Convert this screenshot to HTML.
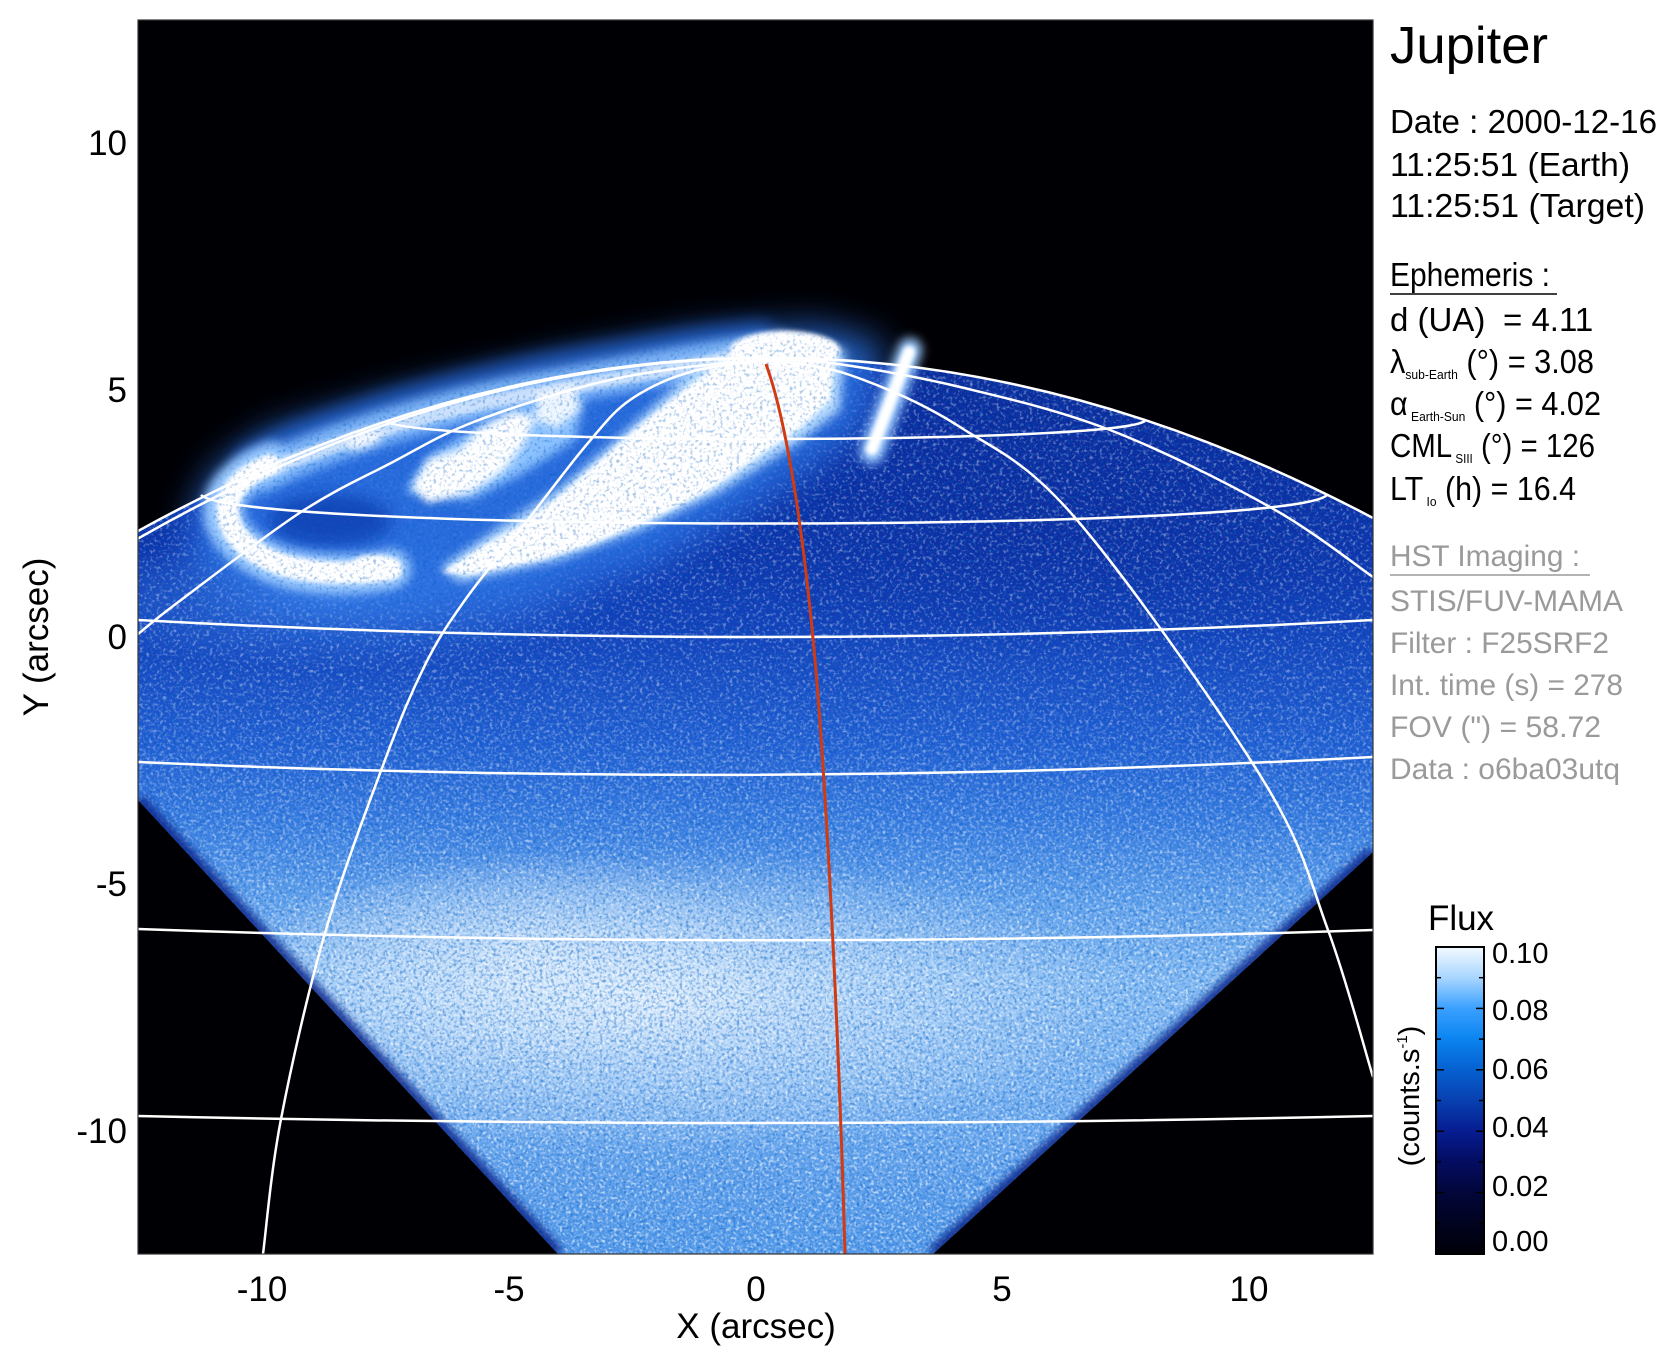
<!DOCTYPE html>
<html>
<head>
<meta charset="utf-8">
<style>
  html,body{margin:0;padding:0;background:#fff;}
  svg{display:block;}
  text{font-family:"Liberation Sans", Arial, sans-serif;}
</style>
</head>
<body>
<svg width="1676" height="1367" viewBox="0 0 1676 1367" xmlns="http://www.w3.org/2000/svg">
<defs>
  <clipPath id="plot"><rect x="138" y="20" width="1235" height="1234"/></clipPath>
  <clipPath id="disk"><path d="M138,531 Q755.5,191 1373,518 L1373,852 L933,1254 L558,1254 L138,800 Z"/></clipPath>
  <linearGradient id="dg" gradientUnits="userSpaceOnUse" x1="0" y1="340" x2="0" y2="1254">
    <stop offset="0" stop-color="#0b2c9a"/>
    <stop offset="0.12" stop-color="#0b2fa2"/>
    <stop offset="0.24" stop-color="#0e37ae"/>
    <stop offset="0.34" stop-color="#1446bf"/>
    <stop offset="0.44" stop-color="#1e5cd2"/>
    <stop offset="0.525" stop-color="#3479e0"/>
    <stop offset="0.61" stop-color="#5c9eec"/>
    <stop offset="0.70" stop-color="#84bbf4"/>
    <stop offset="0.81" stop-color="#78b2f2"/>
    <stop offset="0.92" stop-color="#5c9eec"/>
    <stop offset="1" stop-color="#5098ea"/>
  </linearGradient>
  <radialGradient id="wb" cx="0.5" cy="0.5" r="0.5">
    <stop offset="0" stop-color="#ffffff" stop-opacity="0.7"/>
    <stop offset="0.6" stop-color="#eaf5ff" stop-opacity="0.35"/>
    <stop offset="1" stop-color="#ffffff" stop-opacity="0"/>
  </radialGradient>
  <radialGradient id="db" cx="0.5" cy="0.5" r="0.5">
    <stop offset="0" stop-color="#0a2a9a" stop-opacity="0.5"/>
    <stop offset="1" stop-color="#0a2a9a" stop-opacity="0"/>
  </radialGradient>
  <radialGradient id="gl" cx="0.5" cy="0.5" r="0.5">
    <stop offset="0" stop-color="#3f86ee" stop-opacity="0.7"/>
    <stop offset="1" stop-color="#3f86ee" stop-opacity="0"/>
  </radialGradient>
  <linearGradient id="cb" x1="0" y1="0" x2="0" y2="1">
    <stop offset="0" stop-color="#f4faff"/>
    <stop offset="0.1" stop-color="#a8d6ff"/>
    <stop offset="0.2" stop-color="#3aa0ff"/>
    <stop offset="0.3" stop-color="#0a84f0"/>
    <stop offset="0.4" stop-color="#0660d0"/>
    <stop offset="0.5" stop-color="#0840b0"/>
    <stop offset="0.6" stop-color="#061c90"/>
    <stop offset="0.7" stop-color="#040c60"/>
    <stop offset="0.8" stop-color="#02063a"/>
    <stop offset="0.9" stop-color="#010320"/>
    <stop offset="1" stop-color="#000008"/>
  </linearGradient>
  <linearGradient id="mg" gradientUnits="userSpaceOnUse" x1="0" y1="620" x2="0" y2="950">
    <stop offset="0" stop-color="#000"/>
    <stop offset="1" stop-color="#fff"/>
  </linearGradient>
  <mask id="lowm" maskUnits="userSpaceOnUse" x="138" y="330" width="1235" height="930">
    <rect x="138" y="330" width="1235" height="930" fill="url(#mg)"/>
  </mask>
  <filter id="nw" filterUnits="userSpaceOnUse" x="138" y="300" width="1235" height="960">
    <feTurbulence type="fractalNoise" baseFrequency="0.3" numOctaves="2" seed="7"/>
    <feColorMatrix type="matrix" values="0 0 0 0 0.88  0 0 0 0 0.95  0 0 0 0 1  4 0 0 0 -2.1"/>
  </filter>
  <filter id="nd" filterUnits="userSpaceOnUse" x="138" y="300" width="1235" height="960">
    <feTurbulence type="fractalNoise" baseFrequency="0.3" numOctaves="2" seed="19"/>
    <feColorMatrix type="matrix" values="0 0 0 0 0.0  0 0 0 0 0.1  0 0 0 0 0.5  0 4 0 0 -2.1"/>
  </filter>
  <filter id="nw2" filterUnits="userSpaceOnUse" x="138" y="330" width="1235" height="930">
    <feTurbulence type="fractalNoise" baseFrequency="0.35" numOctaves="1" seed="31"/>
    <feColorMatrix type="matrix" values="0 0 0 0 1  0 0 0 0 1  0 0 0 0 1  5 0 0 0 -2.6"/>
  </filter>
  <filter id="nd2" filterUnits="userSpaceOnUse" x="138" y="330" width="1235" height="930">
    <feTurbulence type="fractalNoise" baseFrequency="0.35" numOctaves="1" seed="47"/>
    <feColorMatrix type="matrix" values="0 0 0 0 0.05  0 0 0 0 0.25  0 0 0 0 0.7  0 5 0 0 -2.6"/>
  </filter>
  <filter id="b18" x="-50%" y="-50%" width="200%" height="200%"><feGaussianBlur stdDeviation="18"/></filter>
  <filter id="b8" x="-50%" y="-50%" width="200%" height="200%"><feGaussianBlur stdDeviation="8"/></filter>
  <filter id="b5" x="-50%" y="-80%" width="200%" height="260%"><feGaussianBlur stdDeviation="5"/></filter>
  <filter id="b4" x="-50%" y="-50%" width="200%" height="200%"><feGaussianBlur stdDeviation="4"/></filter>
  <filter id="b2" x="-50%" y="-50%" width="200%" height="200%"><feGaussianBlur stdDeviation="2"/></filter>
  <mask id="am" maskUnits="userSpaceOnUse" x="138" y="250" width="1235" height="450">
    <path d="M200,520 L225,470 L280,435 L400,398 L560,362 L700,336 L820,330 L870,350 L850,430 L770,490 L650,560 L520,598 L400,605 L280,596 L210,570 Z" fill="#fff" filter="url(#b8)"/>
  </mask>
</defs>

<rect width="1676" height="1367" fill="#ffffff"/>
<rect x="138" y="20" width="1235" height="1234" fill="#000004"/>

<g clip-path="url(#plot)">
  <!-- Disk -->
  <g clip-path="url(#disk)">
    <rect x="138" y="180" width="1235" height="1080" fill="url(#dg)"/>
    <ellipse cx="650" cy="1000" rx="480" ry="150" fill="url(#wb)"/>
    <ellipse cx="520" cy="960" rx="260" ry="110" fill="url(#wb)" opacity="0.6"/>
    <ellipse cx="1050" cy="520" rx="380" ry="140" fill="url(#db)"/>
    <ellipse cx="330" cy="600" rx="280" ry="70" fill="url(#gl)"/>
    <rect x="138" y="330" width="1235" height="930" filter="url(#nw)" opacity="0.4"/>
    <rect x="138" y="330" width="1235" height="930" filter="url(#nd)" opacity="0.45"/>
    <g mask="url(#lowm)">
      <rect x="138" y="330" width="1235" height="930" filter="url(#nw2)" opacity="0.55"/>
      <rect x="138" y="330" width="1235" height="930" filter="url(#nd2)" opacity="0.5"/>
    </g>
    <g filter="url(#b4)" opacity="0.9">
      <line x1="138" y1="800" x2="558" y2="1254" stroke="#0a2a90" stroke-width="14"/>
      <line x1="933" y1="1254" x2="1373" y2="852" stroke="#0a2a90" stroke-width="14"/>
    </g>
  </g>

  <!-- Aurora diffuse glow -->
  <g filter="url(#b18)" opacity="0.85">
    <path d="M190,520 L215,470 L270,432 L400,395 L560,360 L700,334 L820,326 L885,345 L860,430 L770,495 L650,565 L520,605 L400,615 L280,605 L200,575 Z" fill="#2f74e6"/>
  </g>
  <g filter="url(#b8)">
    <ellipse cx="330" cy="520" rx="62" ry="26" fill="#0a2a9a" opacity="0.55"/>
    <path d="M250,460 C330,420 450,385 560,365 C640,352 700,342 760,336" fill="none" stroke="#2a6ae0" stroke-width="30" stroke-linecap="round" opacity="0.6"/>
  </g>
  <g filter="url(#b5)">
    <path d="M391,569 C350,578 300,575 270,562 C242,549 220,530 224,504 C229,484 250,470 272,462" fill="none" stroke="#9ccaff" stroke-width="40" stroke-linecap="round"/>
    <path d="M262,474 C330,440 450,404 560,386 C640,372 700,360 765,352" fill="none" stroke="#8cc2ff" stroke-width="36" stroke-linecap="round" opacity="0.85"/>
    <path d="M845,350 L840,410 L795,445 L720,492 L640,530 L560,560 L460,582 L440,568 L495,530 L560,488 L610,445 L660,400 L715,355 L780,332 Z" fill="#b8dcff"/>
    <path d="M405,492 L430,455 L480,425 L540,405 L585,395 L575,440 L520,475 L470,500 Z" fill="#8cc2ff"/>
    <line x1="910" y1="350" x2="872" y2="452" stroke="#9ccaff" stroke-width="24" stroke-linecap="round"/>
  </g>
  <!-- Aurora core -->
  <g filter="url(#b2)">
    <path d="M391,569 C350,576 300,573 272,561 C245,549 225,530 228,505 C232,485 250,472 270,465" fill="none" stroke="#ffffff" stroke-width="22" stroke-linecap="round"/>
    <ellipse cx="375" cy="566" rx="26" ry="11" fill="#ffffff"/>
    <path d="M272,468 C330,446 420,414 520,396 C600,382 680,366 755,356" fill="none" stroke="#ffffff" stroke-width="14" stroke-linecap="round" opacity="0.6"/>
    <path d="M835,355 L830,400 L800,428 L760,455 L710,490 L650,520 L590,545 L540,560 L470,575 L442,572 L480,548 L520,525 L560,495 L600,460 L640,425 L690,385 L730,356 L770,340 L810,338 Z" fill="#ffffff"/>
    <ellipse cx="785" cy="350" rx="55" ry="19" fill="#ffffff"/>
    <line x1="909" y1="352" x2="872" y2="449" stroke="#ffffff" stroke-width="12" stroke-linecap="round"/>
  </g>
  <g filter="url(#b4)">
    <path d="M412,487 L428,460 L460,449 L481,428 L513,412 L535,417 L524,444 L503,471 L471,492 L428,503 Z" fill="#ffffff"/>
    <path d="M538,392 L575,386 L580,410 L556,428 L535,420 Z" fill="#ffffff" opacity="0.85"/>
    <ellipse cx="364" cy="440" rx="18" ry="8" fill="#ffffff" transform="rotate(-20 364 440)" opacity="0.8"/>
  </g>
  <rect x="138" y="300" width="1235" height="400" filter="url(#nd)" mask="url(#am)" opacity="0.35"/>

  <!-- Grid -->
  <g fill="none" stroke="#ffffff" stroke-width="2.5" stroke-linejoin="round">
    <path d="M138,531 Q755.5,191 1373,518"/>
    <path d="M138,538.6 Q453,358 768,358"/>
    <path d="M768,360 C778.5,360.5 799,358.5 831,363 C863,367.5 913.5,375.8 960,387 C1006.5,398.2 1058.3,410 1110,430 C1161.7,450 1226.2,482.5 1270,507 C1313.8,531.5 1355.8,565.3 1373,577"/>
    <path d="M768,360 C753.3,361.3 709.8,363.8 680,368 C650.2,372.2 623.8,375.8 589,385 C554.2,394.2 504,410 471,423 C438,436 419.3,448.2 391,463 C362.7,477.8 336,489.2 301,512 C266,534.8 208.2,579.7 181,600 C153.8,620.3 145.2,628.3 138,634"/>
    <path d="M768,360 C755,362 713,365.3 690,372 C667,378.7 647,388.2 630,400 C613,411.8 604.7,423.5 588,443 C571.3,462.5 550.5,490.8 530,517 C509.5,543.2 482.5,575.3 465,600 C447.5,624.7 438.3,638.3 425,665 C411.7,691.7 401.7,715.3 385,760 C368.3,804.7 342.3,873.2 325,933 C307.7,992.8 291.3,1065.5 281,1119 C270.7,1172.5 266,1231.5 263,1254"/>
    <path d="M768,360 C781.7,362.5 818,363.8 850,375 C882,386.2 922.2,402.8 960,427 C997.8,451.2 1026.5,461.2 1077,520 C1127.5,578.8 1221.2,711.7 1263,780 C1304.8,848.3 1309.7,880.5 1328,930 C1346.3,979.5 1365.5,1052.5 1373,1077"/>
    <path d="M385,421 C420,445 1110,445 1145,421"/>
    <path d="M201,495 C240,533 1290,533 1327,495"/>
    <path d="M138,620 Q755,654 1373,620"/>
    <path d="M138,762 Q755,790 1373,757"/>
    <path d="M138,929 Q755,951 1373,930"/>
    <path d="M138,1116 Q755,1130 1373,1116"/>
  </g>

  <!-- Red track -->
  <path d="M766,364 C790,430 806,560 815,660 C824,760 838,1000 845,1254" fill="none" stroke="#d23a12" stroke-width="3"/>
</g>
<rect x="138" y="20" width="1235" height="1234" fill="none" stroke="#333" stroke-width="1.2"/>

<!-- Axis tick labels -->
<g font-size="35" fill="#000" text-anchor="end">
  <text x="127" y="155">10</text>
  <text x="127" y="402">5</text>
  <text x="127" y="649">0</text>
  <text x="127" y="896">-5</text>
  <text x="127" y="1143">-10</text>
</g>
<g font-size="35" fill="#000" text-anchor="middle">
  <text x="262" y="1301">-10</text>
  <text x="509" y="1301">-5</text>
  <text x="756" y="1301">0</text>
  <text x="1002" y="1301">5</text>
  <text x="1249" y="1301">10</text>
  <text x="756" y="1338">X (arcsec)</text>
  <text transform="translate(48,637) rotate(-90)" x="0" y="0">Y (arcsec)</text>
</g>

<!-- Info panel -->
<g fill="#000">
  <text x="1390" y="63" font-size="52" textLength="158" lengthAdjust="spacingAndGlyphs">Jupiter</text>
  <text x="1390" y="133" font-size="33" textLength="267" lengthAdjust="spacingAndGlyphs">Date : 2000-12-16</text>
  <text x="1390" y="176" font-size="33" textLength="240" lengthAdjust="spacingAndGlyphs">11:25:51 (Earth)</text>
  <text x="1390" y="217" font-size="33" textLength="255" lengthAdjust="spacingAndGlyphs">11:25:51 (Target)</text>
  <text x="1390" y="286" font-size="33" textLength="160" lengthAdjust="spacingAndGlyphs">Ephemeris :</text>
  <line x1="1390" y1="294" x2="1557" y2="294" stroke="#000" stroke-width="1.5"/>
  <text x="1390" y="331" font-size="33">d (UA)</text>
  <text x="1503" y="331" font-size="33">= 4.11</text>
  <text x="1390" y="373" font-size="33" textLength="204" lengthAdjust="spacingAndGlyphs">λ<tspan font-size="13" dy="6">sub-Earth</tspan><tspan dy="-6"> (°) = 3.08</tspan></text>
  <text x="1390" y="415" font-size="33" textLength="211" lengthAdjust="spacingAndGlyphs">α<tspan font-size="13" dy="6"> Earth-Sun</tspan><tspan dy="-6"> (°) = 4.02</tspan></text>
  <text x="1390" y="457" font-size="33" textLength="205" lengthAdjust="spacingAndGlyphs">CML<tspan font-size="13" dy="6"> SIII</tspan><tspan dy="-6"> (°) = 126</tspan></text>
  <text x="1390" y="500" font-size="33" textLength="186" lengthAdjust="spacingAndGlyphs">LT<tspan font-size="13" dy="6"> Io</tspan><tspan dy="-6"> (h) = 16.4</tspan></text>
</g>
<g fill="#9a9a9a" font-size="30">
  <text x="1390" y="566" textLength="190" lengthAdjust="spacingAndGlyphs">HST Imaging :</text>
  <line x1="1390" y1="575" x2="1590" y2="575" stroke="#9a9a9a" stroke-width="1.5"/>
  <text x="1390" y="611" textLength="233" lengthAdjust="spacingAndGlyphs">STIS/FUV-MAMA</text>
  <text x="1390" y="653" textLength="219" lengthAdjust="spacingAndGlyphs">Filter : F25SRF2</text>
  <text x="1390" y="695" textLength="233" lengthAdjust="spacingAndGlyphs">Int. time (s) = 278</text>
  <text x="1390" y="737" textLength="211" lengthAdjust="spacingAndGlyphs">FOV (") = 58.72</text>
  <text x="1390" y="779" textLength="230" lengthAdjust="spacingAndGlyphs">Data : o6ba03utq</text>
</g>

<!-- Colorbar -->
<text x="1461" y="930" font-size="35" text-anchor="middle" fill="#000">Flux</text>
<rect x="1436" y="947" width="48" height="307" fill="url(#cb)" stroke="#000" stroke-width="2"/>
<g stroke="#000" stroke-width="1.5">
  <line x1="1436" y1="977.7" x2="1441" y2="977.7"/><line x1="1479" y1="977.7" x2="1484" y2="977.7"/>
  <line x1="1436" y1="1008.4" x2="1444" y2="1008.4"/><line x1="1476" y1="1008.4" x2="1484" y2="1008.4"/>
  <line x1="1436" y1="1039.1" x2="1441" y2="1039.1"/><line x1="1479" y1="1039.1" x2="1484" y2="1039.1"/>
  <line x1="1436" y1="1069.8" x2="1444" y2="1069.8"/><line x1="1476" y1="1069.8" x2="1484" y2="1069.8"/>
  <line x1="1436" y1="1100.5" x2="1441" y2="1100.5"/><line x1="1479" y1="1100.5" x2="1484" y2="1100.5"/>
  <line x1="1436" y1="1131.2" x2="1444" y2="1131.2"/><line x1="1476" y1="1131.2" x2="1484" y2="1131.2"/>
  <line x1="1436" y1="1161.9" x2="1441" y2="1161.9"/><line x1="1479" y1="1161.9" x2="1484" y2="1161.9"/>
  <line x1="1436" y1="1192.6" x2="1444" y2="1192.6"/><line x1="1476" y1="1192.6" x2="1484" y2="1192.6"/>
  <line x1="1436" y1="1223.3" x2="1441" y2="1223.3"/><line x1="1479" y1="1223.3" x2="1484" y2="1223.3"/>
</g>
<g font-size="29" fill="#000">
  <text x="1492" y="963">0.10</text>
  <text x="1492" y="1020">0.08</text>
  <text x="1492" y="1079">0.06</text>
  <text x="1492" y="1137">0.04</text>
  <text x="1492" y="1196">0.02</text>
  <text x="1492" y="1251">0.00</text>
</g>
<text transform="translate(1419,1096) rotate(-90)" x="0" y="0" font-size="29" text-anchor="middle" fill="#000">(counts.s<tspan font-size="15" dy="-12">-1</tspan><tspan dy="12">)</tspan></text>
</svg>
</body>
</html>
